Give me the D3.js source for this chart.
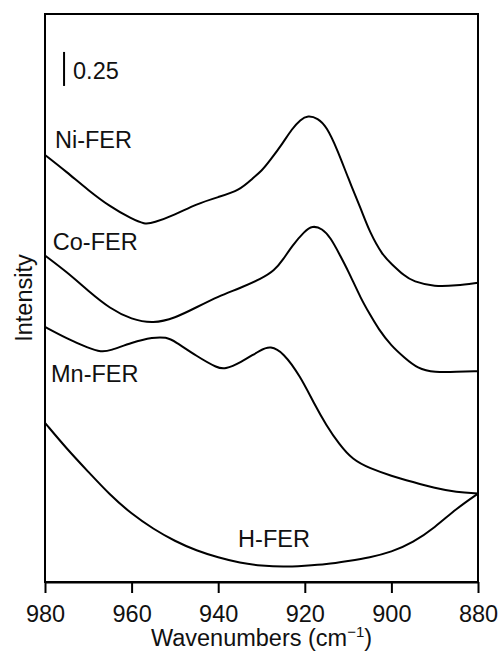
<!DOCTYPE html>
<html>
<head>
<meta charset="utf-8">
<script src="https://cdn.jsdelivr.net/npm/d3@7"></script>
<style>
  html, body { margin: 0; padding: 0; background: #fff; }
  svg { display: block; font-family: "Liberation Sans", Arial, sans-serif; }
</style>
</head>
<body>
<div id="chart"></div>
<script>
// ----- Data -----
// x: wavenumber (cm-1), y: intensity (arbitrary offset, 0 at the bottom axis)
const niWn  = [980, 975, 970, 965, 960, 957, 955, 950, 945, 940, 935, 932, 930, 928, 925, 923, 921, 919.3, 917, 915, 912.5, 910, 907, 905, 902, 900, 897, 895, 890, 885, 880];
const niVal = [3.14, 3.015, 2.88, 2.76, 2.67, 2.63, 2.64, 2.70, 2.78, 2.83, 2.88, 2.97, 3.02, 3.10, 3.23, 3.33, 3.40, 3.43, 3.41, 3.35, 3.18, 2.97, 2.74, 2.57, 2.40, 2.34, 2.25, 2.21, 2.17, 2.18, 2.20];

const coWn  = [980, 975, 970, 965, 960, 955, 950, 945, 940, 935, 930, 927, 925, 923, 920, 918.3, 916, 914, 912, 910, 907, 905, 903, 900, 897, 894, 890, 885, 880];
const coVal = [2.40, 2.28, 2.14, 2.01, 1.93, 1.90, 1.94, 2.02, 2.10, 2.16, 2.23, 2.29, 2.37, 2.47, 2.58, 2.62, 2.60, 2.53, 2.41, 2.29, 2.08, 1.97, 1.86, 1.735, 1.65, 1.57, 1.54, 1.545, 1.55];

const mnWn  = [980, 975, 970, 967, 965, 960, 955, 952, 950, 945, 940, 938.5, 935, 930, 928, 925, 921, 918, 915, 912, 909, 905, 900, 895, 890, 885, 880];
const mnVal = [1.875, 1.79, 1.72, 1.69, 1.70, 1.76, 1.80, 1.80, 1.77, 1.66, 1.57, 1.565, 1.61, 1.71, 1.735, 1.69, 1.51, 1.32, 1.15, 1.01, 0.90, 0.835, 0.78, 0.735, 0.69, 0.66, 0.65];

const hWn   = [980, 975, 970, 965, 960, 955, 950, 945, 940, 935, 930, 925, 920, 915, 910, 905, 900, 895, 890, 885, 880];
const hVal  = [1.17, 0.98, 0.81, 0.64, 0.50, 0.39, 0.30, 0.23, 0.18, 0.14, 0.12, 0.11, 0.12, 0.13, 0.155, 0.18, 0.22, 0.29, 0.40, 0.54, 0.65];

const seriesNames = ["Ni-FER", "Co-FER", "Mn-FER", "H-FER"];
// label anchor (wavenumber, intensity of baseline)
const labelWn  = [977.7, 978.2, 978.6, 935.4];
const labelVal = [3.19, 2.44, 1.47, 0.26];

const xTicks = [980, 960, 940, 920, 900, 880];
const scaleBarWn = 975.6;      // position of the scale bar
const scaleBarTop = 3.897;
const scaleBarSize = 0.25;

// ----- Layout -----
const W = 501, H = 653;
const M = { top: 14, right: 23, bottom: 71, left: 45 };
const FONT = 23.5;

const svg = d3.select("#chart").append("svg")
  .attr("width", W).attr("height", H);

const x = d3.scaleLinear().domain([980, 880]).range([M.left, W - M.right]);
const y = d3.scaleLinear().domain([0, 4.176]).range([H - M.bottom, M.top]);

const line = d3.line()
  .x(d => x(d[0]))
  .y(d => y(d[1]))
  .curve(d3.curveBasis);

const series = [
  d3.zip(niWn, niVal),
  d3.zip(coWn, coVal),
  d3.zip(mnWn, mnVal),
  d3.zip(hWn, hVal)
];

svg.append("g")
  .selectAll("path")
  .data(series)
  .join("path")
  .attr("d", line)
  .attr("fill", "none")
  .attr("stroke", "#000")
  .attr("stroke-width", 2)
  .attr("stroke-linejoin", "round");

// series labels
svg.append("g")
  .selectAll("text")
  .data(seriesNames)
  .join("text")
  .attr("x", (d, i) => x(labelWn[i]))
  .attr("y", (d, i) => y(labelVal[i]))
  .attr("font-size", FONT)
  .attr("fill", "#111")
  .text(d => d);

// scale bar
svg.append("line")
  .attr("x1", x(scaleBarWn)).attr("x2", x(scaleBarWn))
  .attr("y1", y(scaleBarTop)).attr("y2", y(scaleBarTop - scaleBarSize))
  .attr("stroke", "#000").attr("stroke-width", 2);
svg.append("text")
  .attr("x", x(scaleBarWn) + 9)
  .attr("y", y(scaleBarTop - scaleBarSize) - 7)
  .attr("font-size", FONT)
  .attr("fill", "#111")
  .text(scaleBarSize.toFixed(2));

// frame
svg.append("rect")
  .attr("x", M.left).attr("y", M.top)
  .attr("width", W - M.left - M.right)
  .attr("height", H - M.top - M.bottom)
  .attr("fill", "none")
  .attr("stroke", "#000")
  .attr("stroke-width", 2);

// x axis
const xAxisG = svg.append("g")
  .attr("transform", `translate(0,${H - M.bottom})`)
  .call(d3.axisBottom(x).tickValues(xTicks).tickSize(11).tickSizeOuter(0).tickPadding(12));
xAxisG.select(".domain").attr("stroke-width", 2);
xAxisG.selectAll(".tick line").attr("stroke-width", 2);
xAxisG.selectAll(".tick text")
  .attr("font-size", FONT)
  .attr("font-family", "Liberation Sans, Arial, sans-serif")
  .attr("fill", "#111");

// axis titles
svg.append("text")
  .attr("x", (M.left + W - M.right) / 2)
  .attr("y", H - 7)
  .attr("text-anchor", "middle")
  .attr("font-size", FONT)
  .attr("fill", "#111")
  .html('Wavenumbers (cm<tspan dy="-9" font-size="15">\u22121</tspan><tspan dy="9">)</tspan>');

svg.append("text")
  .attr("transform", `translate(32,${(M.top + H - M.bottom) / 2}) rotate(-90)`)
  .attr("text-anchor", "middle")
  .attr("font-size", FONT)
  .attr("fill", "#111")
  .text("Intensity");
</script>
</body>
</html>
